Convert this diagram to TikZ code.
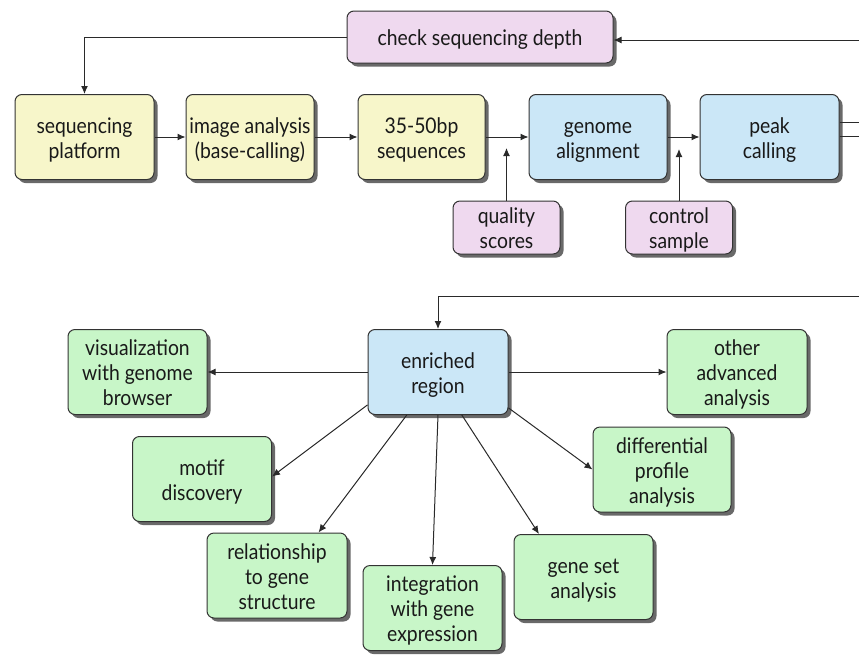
\documentclass[tikz,border=0pt]{standalone}
\usepackage{fontspec}
\setmainfont{Lato}[FakeStretch=0.9]
\usetikzlibrary{shadows,arrows.meta}
\definecolor{cyel}{HTML}{F7F6CA}
\definecolor{cblue}{HTML}{CBE7F7}
\definecolor{cpink}{HTML}{EFD9EF}
\definecolor{cgreen}{HTML}{C8F6C8}
\definecolor{cline}{HTML}{2A2A2A}
\newcommand{\boxtext}[1]{\raisebox{-9pt}[0pt][0pt]{\begin{tabular}{@{}c@{}}#1\end{tabular}}}
\begin{document}
\begin{tikzpicture}[x=1pt,y=-1pt,
  box/.style={draw=black!80, line width=1pt, rounded corners=7pt,
    text=black!90, font=\fontsize{21.5}{25}\selectfont, inner sep=0pt,
    drop shadow={shadow xshift=3.5pt, shadow yshift=-3.5pt, fill=black!65, opacity=0.9}},
  big/.style={box, minimum width=139pt, minimum height=85pt},
  small/.style={box, fill=cpink, minimum width=107pt, minimum height=53pt},
  arr/.style={draw=cline, line width=1pt, -{Latex[length=8pt,width=7pt]}},
  ln/.style={draw=cline, line width=1pt}
]
\useasboundingbox (0,0) rectangle (859,656);
% top row
\node[box, fill=cpink, minimum width=266pt, minimum height=52pt] (csd) at (480,37) {\boxtext{check sequencing depth}};
\node[big, fill=cyel] (sp) at (84.5,137) {\boxtext{sequencing\\platform}};
\node[big, fill=cyel, minimum width=128pt] (ia) at (250,137) {\boxtext{image analysis\\(base-calling)}};
\node[big, fill=cyel, minimum width=127pt] (sq) at (421.5,137) {\boxtext{35-50bp\\sequences}};
\node[big, fill=cblue, minimum width=138pt] (ga) at (598,137) {\boxtext{genome\\alignment}};
\node[big, fill=cblue] (pc) at (769.5,137) {\boxtext{peak\\calling}};
\node[small] (qs) at (506.5,227.5) {\boxtext{quality\\scores}};
\node[small] (cs) at (679,227.5) {\boxtext{control\\sample}};
% bottom part
\node[big, fill=cblue, minimum width=140pt] (er) at (438,372) {\boxtext{enriched\\region}};
\node[big, fill=cgreen] (vis) at (137.5,372) {\boxtext{visualization\\with genome\\browser}};
\node[big, fill=cgreen, minimum width=140pt] (oth) at (737,372) {\boxtext{other\\advanced\\analysis}};
\node[big, fill=cgreen] (mot) at (202,479) {\boxtext{motif\\discovery}};
\node[big, fill=cgreen, minimum width=138pt] (dif) at (662,469.5) {\boxtext{differential\\profile\\analysis}};
\node[big, fill=cgreen, minimum width=140pt] (rel) at (277,575.5) {\boxtext{relationship\\to gene\\structure}};
\node[big, fill=cgreen] (int) at (432.5,608) {\boxtext{integration\\with gene\\expression}};
\node[big, fill=cgreen] (gs) at (583.5,577) {\boxtext{gene set\\analysis}};
% coordinates at picture edge
\coordinate (r1) at (859,40);
\coordinate (r2) at (859,122);
\coordinate (r3) at (859,136);
\coordinate (r4) at (859,296);
\coordinate (qt) at (506.5,148);
\coordinate (ct) at (679,149);
% connectors
\draw[arr] (r1) -- (r1 -| csd.east);
\draw[arr] (csd.west) -| (sp.north);
\draw[arr] (sp) -- (ia);
\draw[arr] (ia) -- (sq);
\draw[arr] (sq) -- (ga);
\draw[arr] (ga) -- (pc);
\draw[ln] (r2 -| pc.east) -- (r2);
\draw[ln] (r3 -| pc.east) -- (r3);
\draw[arr] (qs.north) -- (qt);
\draw[arr] (cs.north) -- (ct);
\draw[arr] (r4) -| (er.north);
\draw[arr] (er.west) -- (vis.east);
\draw[arr] (er.east) -- (oth.west);
\draw[arr] (er.205) -- (mot.2);
\draw[arr] (er.234) -- (rel.46);
\draw[arr] (er.south) -- (int.north);
\draw[arr] (er.-61) -- (gs.136);
\draw[arr] (er.-27) -- (dif.west);
\end{tikzpicture}
\end{document}
